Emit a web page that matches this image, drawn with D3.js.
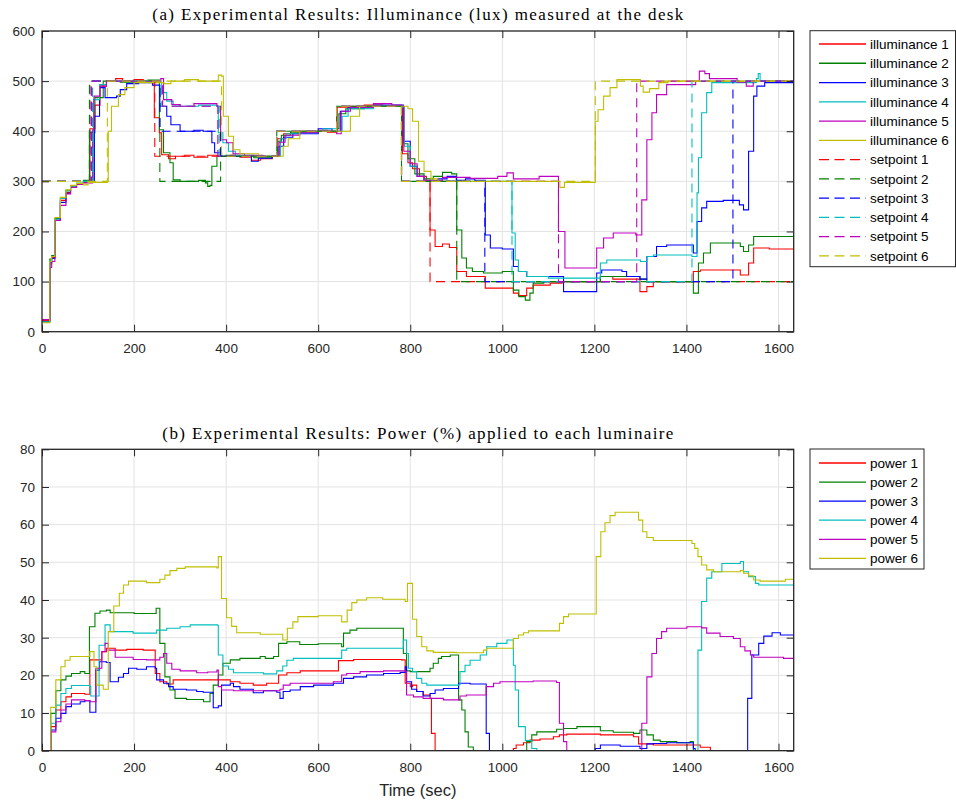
<!DOCTYPE html>
<html><head><meta charset="utf-8">
<script src="https://cdn.jsdelivr.net/npm/d3@7"></script>
<style>body{margin:0;background:#fff}</style>
</head><body>
<svg id="chart" width="956" height="803"></svg>
<script>
// ---------------- DATA ----------------
const timeDomain = [0, 1633];
const xTicks = [0,200,400,600,800,1000,1200,1400,1600];
const yTicksA = [0,100,200,300,400,500,600];
const yTicksB = [0,10,20,30,40,50,60,70,80];
const seriesColors = ["#ff0000","#008000","#0000ff","#00bfbf","#bf00bf","#bfbf00"];
const illumLabels = ["illuminance 1","illuminance 2","illuminance 3","illuminance 4","illuminance 5","illuminance 6"];
const setLabels = ["setpoint 1","setpoint 2","setpoint 3","setpoint 4","setpoint 5","setpoint 6"];
const powerLabels = ["power 1","power 2","power 3","power 4","power 5","power 6"];
const titleA = "(a) Experimental Results: Illuminance (lux) measured at the desk";
const titleB = "(b) Experimental Results: Power (%) applied to each luminaire";
const xLabel = "Time (sec)";

const illum1 = [[0,22],[17,135],[21,148],[28,222],[40,262],[52,278],[62,288],[75,295],[90,298],[104,405],[115,452],[126,490],[140,500],[160,505],[175,500],[200,503],[220,500],[243,495],[244,427],[255,397],[260,353],[275,345],[290,350],[310,352],[330,348],[360,352],[390,350],[410,352],[430,348],[455,342],[475,345],[500,350],[512,385],[525,395],[560,400],[600,402],[620,398],[641,448],[670,450],[700,452],[740,450],[781,448],[783,355],[795,337],[805,325],[820,310],[835,300],[843,203],[854,170],[870,175],[885,168],[901,120],[922,110],[963,87],[1024,77],[1035,72],[1053,87],[1067,93],[1104,97],[1130,100],[1213,110],[1240,105],[1299,80],[1314,90],[1328,100],[1415,120],[1430,123],[1517,113],[1535,137],[1546,167],[1580,165],[1633,165]];
const illum2 = [[0,20],[17,145],[21,152],[28,226],[40,266],[52,282],[62,291],[75,296],[90,302],[103,397],[115,467],[133,500],[170,498],[200,500],[230,502],[255,403],[264,357],[278,337],[285,303],[300,300],[340,302],[355,297],[360,290],[365,292],[369,330],[380,350],[400,352],[420,350],[460,347],[500,350],[512,380],[520,392],[540,398],[600,400],[640,405],[645,435],[660,445],[700,450],[781,450],[785,375],[795,345],[810,315],[830,305],[850,310],[870,318],[890,315],[901,203],[912,147],[922,127],[935,120],[959,117],[1000,120],[1024,83],[1036,70],[1050,63],[1060,77],[1067,97],[1090,100],[1213,110],[1299,105],[1314,100],[1415,77],[1426,137],[1437,157],[1452,177],[1517,170],[1524,160],[1535,173],[1546,190],[1633,190]];
const illum3 = [[0,20],[17,138],[21,146],[28,223],[40,258],[52,276],[62,289],[75,294],[90,299],[104,300],[114,430],[125,487],[137,467],[162,470],[170,483],[184,495],[210,497],[240,492],[256,450],[271,430],[280,413],[300,400],[330,402],[350,400],[369,377],[375,357],[390,350],[420,350],[455,340],[470,346],[500,350],[515,370],[525,388],[545,395],[600,405],[630,400],[648,440],[665,447],[720,452],[781,452],[785,380],[800,330],[815,310],[830,300],[860,305],[880,310],[900,302],[920,305],[940,302],[963,193],[974,167],[1000,165],[1024,130],[1035,120],[1053,110],[1133,80],[1205,117],[1216,123],[1260,120],[1270,110],[1299,105],[1314,150],[1335,170],[1357,173],[1415,157],[1423,220],[1433,247],[1444,260],[1480,262],[1515,253],[1524,243],[1535,360],[1546,470],[1553,490],[1570,497],[1633,497]];
const illum4 = [[0,20],[17,142],[21,150],[28,225],[40,266],[52,281],[62,290],[75,296],[90,300],[112,463],[125,493],[140,500],[200,500],[230,498],[260,477],[271,460],[285,453],[300,450],[340,452],[380,450],[383,397],[393,377],[405,360],[420,352],[460,350],[500,350],[518,385],[530,395],[560,400],[610,405],[640,400],[652,430],[665,445],[720,450],[781,448],[787,370],[800,330],[815,310],[830,300],[1021,197],[1028,143],[1035,120],[1053,110],[1100,107],[1213,137],[1227,143],[1300,140],[1314,150],[1328,153],[1412,150],[1423,277],[1426,347],[1433,437],[1444,477],[1455,497],[1552,505],[1556,515],[1560,500],[1633,500]];
const illum5 = [[0,24],[17,128],[21,140],[28,222],[40,252],[52,275],[62,288],[75,294],[90,297],[110,403],[113,470],[126,490],[140,500],[200,498],[240,500],[258,505],[264,463],[282,453],[300,450],[330,455],[380,450],[388,383],[401,377],[415,355],[440,352],[480,350],[510,350],[515,378],[528,392],[560,398],[600,400],[640,395],[650,440],[670,448],[720,455],[760,452],[781,450],[786,360],[800,335],[815,310],[830,302],[870,308],[930,306],[990,310],[1010,317],[1024,305],[1050,305],[1080,310],[1122,200],[1136,127],[1205,167],[1220,187],[1241,197],[1290,193],[1303,263],[1314,383],[1325,437],[1335,473],[1357,493],[1420,500],[1428,520],[1440,515],[1450,505],[1510,498],[1530,490],[1545,500],[1633,500]];
const illum6 = [[0,18],[17,140],[21,150],[28,228],[40,268],[52,283],[62,292],[75,296],[90,293],[100,298],[142,300],[144,400],[151,450],[166,473],[180,487],[200,497],[256,497],[265,495],[280,500],[310,503],[340,500],[370,500],[383,512],[390,510],[394,430],[405,390],[416,363],[430,355],[470,350],[510,350],[524,370],[535,385],[560,400],[662,400],[670,430],[690,450],[781,450],[795,445],[805,420],[818,340],[830,320],[845,305],[860,300],[1120,300],[1125,288],[1135,298],[1202,420],[1208,443],[1220,470],[1234,487],[1249,503],[1300,490],[1306,478],[1320,485],[1340,497],[1360,500],[1633,500]];

const setpoint1 = [[0,300],[104,500],[245,350],[510,400],[640,450],[781,300],[843,100],[1633,100]];
const setpoint2 = [[0,300],[103,500],[256,300],[388,350],[510,400],[640,450],[781,300],[901,100],[1633,100]];
const setpoint3 = [[0,300],[107,500],[256,400],[388,350],[510,400],[640,450],[781,300],[962,100],[1501,500],[1633,500]];
const setpoint4 = [[0,300],[110,500],[260,450],[385,350],[510,400],[640,450],[781,300],[1021,100],[1412,500],[1633,500]];
const setpoint5 = [[0,300],[108,500],[262,450],[382,350],[510,400],[640,450],[781,300],[1122,100],[1292,500],[1633,500]];
const setpoint6 = [[0,300],[142,500],[390,350],[510,400],[640,450],[781,300],[1202,500],[1633,500]];

const power1 = [[0,0],[19,6.4],[30,10.8],[41,13],[52,14.3],[64,15.2],[93,15],[104,24.1],[130,26.3],[140,27.2],[159,26.7],[184,26.9],[220,26.7],[246,20.5],[256,18.3],[271,17.7],[285,18.8],[380,18.8],[409,18.3],[430,17.9],[459,17.4],[488,17.9],[514,20.1],[532,20.7],[561,21.2],[644,23.9],[677,24.2],[781,24.1],[789,17.9],[800,17],[805,17.4],[814,15.7],[828,14.8],[843,13.9],[846,4.6],[854,0],[1024,0.6],[1030,1.5],[1046,2.1],[1060,2.8],[1082,3.1],[1111,3.7],[1124,4.2],[1140,4.4],[1213,4.2],[1285,3.7],[1296,1.8],[1328,1.5],[1430,0.9],[1452,0],[1633,0]];
const power2 = [[0,0],[19,9.9],[30,15.9],[41,18.8],[52,19.8],[64,20.5],[83,21],[93,20.5],[103,32.9],[115,36.5],[126,37.1],[140,37.3],[148,36.6],[200,36.4],[248,37.8],[256,28.5],[267,19.6],[278,16.1],[289,13.9],[314,13.6],[351,13],[365,15.2],[372,17.4],[383,20.1],[393,23.2],[409,24.1],[430,24.5],[474,25],[485,24.5],[503,25],[514,28.5],[532,28.9],[560,28.2],[600,28.4],[651,27.6],[655,31.2],[669,32],[684,32.5],[781,32.5],[785,25.8],[792,21.2],[800,21],[843,21.9],[850,23.2],[861,24.5],[868,25],[887,25.4],[905,13.5],[912,10.8],[919,5],[926,1],[937,0],[1053,2.4],[1064,4.2],[1075,5],[1118,5.7],[1133,5.9],[1162,6.4],[1183,6.4],[1213,5.3],[1241,4.9],[1285,4.6],[1299,5.5],[1314,4.2],[1328,2.8],[1343,2.4],[1379,2.1],[1408,2.4],[1415,0],[1633,0]];
const power3 = [[0,0],[19,5.5],[30,8.6],[41,9.9],[52,11.7],[64,12.4],[83,13],[93,13.3],[104,10.2],[117,21.4],[125,23.6],[140,23.4],[148,18.3],[166,19.5],[177,20.5],[188,21.9],[206,21.6],[227,22.3],[246,21.9],[249,18.8],[264,17.9],[275,17],[285,16.3],[314,16.1],[336,15.7],[350,15.5],[372,11.4],[383,11.9],[390,17.4],[409,17.9],[416,17],[430,16.3],[459,15.4],[481,15.9],[510,15.5],[517,13.9],[524,15.7],[539,16.1],[561,17],[590,17.4],[633,17.9],[655,19.2],[677,19.6],[705,20.1],[742,20.5],[778,20.8],[789,22.3],[792,18.3],[803,16.3],[814,15.7],[828,14.5],[843,15.2],[854,16.1],[872,16.5],[905,17.9],[930,17.7],[965,4.6],[972,0],[1202,0.6],[1213,1.5],[1256,1.2],[1299,0.6],[1314,1.8],[1328,1.9],[1357,2.1],[1415,0.6],[1419,0],[1533,13.9],[1542,25.4],[1557,28.5],[1568,30.4],[1586,31.3],[1604,30.7],[1633,30.7]];
const power4 = [[0,0],[19,7.3],[30,12.1],[41,15.2],[52,16.5],[64,17.3],[104,17],[106,14.5],[124,28],[137,33.4],[148,31.6],[198,31.2],[249,32],[271,32.5],[300,32.9],[322,33.4],[381,33.3],[383,25.4],[393,22.5],[405,21.6],[416,20.7],[481,20.4],[510,21.2],[523,22.5],[532,24],[546,24.5],[651,26.7],[662,27.2],[785,29.4],[792,25.8],[796,21.9],[805,21],[814,19.2],[825,17.9],[836,17.4],[905,17.5],[908,21],[919,22.7],[930,24],[952,25.4],[966,27.6],[988,28.5],[1010,29.4],[1024,22.7],[1028,16.1],[1035,6.4],[1050,2.7],[1064,0.6],[1075,0],[1425,26.7],[1433,39.6],[1444,45.8],[1455,47.5],[1477,49.7],[1517,50.2],[1524,47.5],[1535,46.2],[1550,44.4],[1557,44],[1633,44]];
const power5 = [[0,0],[19,5],[30,7.7],[41,10.8],[52,12.4],[64,13.5],[93,13.3],[104,13],[117,21.9],[130,26.3],[137,28.5],[144,26.7],[159,24.8],[198,24.2],[227,24.1],[256,24.8],[264,25.8],[271,23.2],[282,21.6],[300,21.2],[336,20.7],[360,20.9],[380,21.4],[383,17],[390,16.1],[416,15.9],[474,15.9],[517,16.3],[524,17.4],[539,17.9],[633,18.3],[651,20.1],[662,20.5],[691,21],[742,21.2],[789,21],[792,14.8],[807,14.3],[828,13.9],[872,13.5],[908,14.5],[922,14.8],[965,17],[981,17.9],[995,18.3],[1067,18.5],[1118,18.1],[1124,7.3],[1133,2.4],[1140,0],[1303,7.3],[1314,19.6],[1325,25.8],[1335,29.8],[1346,31.6],[1357,32.5],[1401,32.9],[1433,32.6],[1444,31.2],[1473,30.3],[1502,29.8],[1517,27.6],[1527,26.5],[1539,25.4],[1546,24.8],[1611,24.5],[1633,24.5]];
const power6 = [[0,0],[19,11.5],[30,18.8],[41,22.3],[50,24],[61,25],[104,26.3],[113,22.3],[119,17.4],[133,16.3],[144,31.6],[156,38.4],[168,41.8],[177,44],[188,45],[227,44.6],[256,45.5],[267,46.6],[278,47.8],[293,48.4],[311,48.8],[380,48.5],[383,51.5],[390,40.4],[401,35.3],[412,33],[423,31.3],[474,30.9],[523,29.4],[533,32.5],[545,34.2],[556,35.6],[600,35.8],[651,34.2],[663,37.3],[673,39.3],[684,40],[705,40.6],[740,40.2],[789,39.6],[794,44.4],[805,34.9],[814,30.3],[825,27.6],[836,26.5],[850,26.1],[900,26],[959,26.7],[966,27.2],[1024,29.8],[1035,30.7],[1046,31.3],[1057,31.8],[1124,33.8],[1133,35.6],[1144,36.3],[1204,51.5],[1214,58.1],[1223,60.5],[1234,62.4],[1245,63.3],[1296,61.2],[1305,58.1],[1314,56.6],[1328,55.8],[1412,55],[1418,53.7],[1425,51.5],[1433,49.3],[1444,48],[1459,47.5],[1517,47.8],[1524,47.1],[1535,46.4],[1546,45.3],[1560,45],[1615,45.5],[1633,45.5]];

// ---------------- DRAW ----------------
const svg = d3.select("#chart");
const AX = "#262626", GRID = "#e3e3e3";
const tickFont = "Liberation Sans, Arial, sans-serif";
const serifFont = "Liberation Serif, Times New Roman, serif";
const L = 42, R = 793.7;
const x = d3.scaleLinear().domain(timeDomain).range([L, R]);
const fmt = d3.format("d");

function panel(id, top, bottom, ydom, yTicks, lines, title, titleY, titleW) {
  const y = d3.scaleLinear().domain(ydom).range([bottom, top]);
  const g = svg.append("g");
  g.append("clipPath").attr("id", "clip" + id).append("rect")
    .attr("x", L).attr("y", top).attr("width", R - L).attr("height", bottom - top);
  // grid
  g.append("g").selectAll("line").data(xTicks.slice(1)).join("line")
    .attr("x1", d => x(d)).attr("x2", d => x(d)).attr("y1", top).attr("y2", bottom)
    .attr("stroke", GRID).attr("stroke-width", 1);
  g.append("g").selectAll("line").data(yTicks.slice(1, -1)).join("line")
    .attr("x1", L).attr("x2", R).attr("y1", d => y(d)).attr("y2", d => y(d))
    .attr("stroke", GRID).attr("stroke-width", 1);
  // data lines
  const line = d3.line().x(d => x(d[0])).y(d => y(d[1])).curve(d3.curveStepAfter);
  const lg = g.append("g").attr("clip-path", `url(#clip${id})`);
  lines.forEach(s => {
    lg.append("path").attr("d", line(s.data)).attr("fill", "none")
      .attr("stroke", s.color).attr("stroke-width", 1.1)
      .attr("stroke-dasharray", s.dash ? "9,6" : null);
  });
  // axes
  const axB = d3.axisBottom(x).tickValues(xTicks).tickFormat(fmt).tickSizeInner(-7).tickSizeOuter(0).tickPadding(12);
  const axT = d3.axisTop(x).tickValues(xTicks).tickSizeInner(-7).tickSizeOuter(0).tickFormat("");
  const axL = d3.axisLeft(y).tickValues(yTicks).tickFormat(fmt).tickSizeInner(-7).tickSizeOuter(0).tickPadding(7);
  const axR = d3.axisRight(y).tickValues(yTicks).tickSizeInner(-7).tickSizeOuter(0).tickFormat("");
  const style = sel => {
    sel.select(".domain").remove();
    sel.selectAll(".tick line").attr("stroke", AX).attr("stroke-width", 1);
    sel.selectAll(".tick text").attr("fill", AX).style("font-family", tickFont).style("font-size", "13.5px");
  };
  g.append("g").attr("transform", `translate(0,${bottom})`).call(axB).call(style);
  g.append("g").attr("transform", `translate(0,${top})`).call(axT).call(style);
  g.append("g").attr("transform", `translate(${L},0)`).call(axL).call(style);
  g.append("g").attr("transform", `translate(${R},0)`).call(axR).call(style);
  g.append("rect").attr("x", L).attr("y", top).attr("width", R - L).attr("height", bottom - top)
    .attr("fill", "none").attr("stroke", AX).attr("stroke-width", 1.3);
  g.append("text").attr("x", (L + R) / 2).attr("y", titleY).attr("text-anchor", "middle")
    .attr("textLength", titleW).attr("lengthAdjust", "spacing")
    .style("font-family", serifFont).style("font-size", "17px").attr("fill", "#000").text(title);
  return y;
}

function legend(x0, y0, w, h, first, step, items) {
  const g = svg.append("g");
  g.append("rect").attr("x", x0).attr("y", y0).attr("width", w).attr("height", h)
    .attr("fill", "#fff").attr("stroke", AX).attr("stroke-width", 1);
  items.forEach((it, i) => {
    const yy = first + i * step;
    g.append("line").attr("x1", x0 + 9).attr("x2", x0 + 56).attr("y1", yy).attr("y2", yy)
      .attr("stroke", it.color).attr("stroke-width", 1.3)
      .attr("stroke-dasharray", it.dash ? "10,5.5" : null);
    g.append("text").attr("x", x0 + 60).attr("y", yy).attr("dy", "0.35em")
      .style("font-family", tickFont).style("font-size", "13.5px").attr("fill", "#000").text(it.label);
  });
}

const illums = [illum1, illum2, illum3, illum4, illum5, illum6];
const sets = [setpoint1, setpoint2, setpoint3, setpoint4, setpoint5, setpoint6];
const powers = [power1, power2, power3, power4, power5, power6];

const topLines = illums.map((d, i) => ({data: d, color: seriesColors[i], dash: false}))
  .concat(sets.map((d, i) => ({data: d, color: seriesColors[i], dash: true})));
panel("A", 31, 331.7, [0, 600], yTicksA, topLines, titleA, 20, 531);

const botLines = powers.map((d, i) => ({data: d, color: seriesColors[i], dash: false}));
panel("B", 449.3, 750.7, [0, 80], yTicksB, botLines, titleB, 439, 511);

svg.append("text").attr("x", (L + R) / 2).attr("y", 796).attr("text-anchor", "middle")
  .style("font-family", tickFont).style("font-size", "16.5px").attr("fill", AX).text(xLabel);

legend(810, 30.7, 145.5, 236,
  44, 19.27,
  illumLabels.map((l, i) => ({label: l, color: seriesColors[i], dash: false}))
    .concat(setLabels.map((l, i) => ({label: l, color: seriesColors[i], dash: true}))));
legend(810, 449, 114, 120, 463, 19.07,
  powerLabels.map((l, i) => ({label: l, color: seriesColors[i], dash: false})));
</script>
</body></html>
